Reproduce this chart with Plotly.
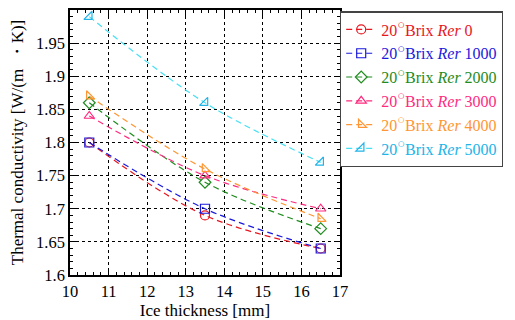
import plotly.graph_objects as go

thickness = [10.5, 13.5, 16.5]
rer_labels = ["0", "1000", "2000", "3000", "4000", "5000"]
k_rer0 = [1.80, 1.69, 1.64]
k_rer1000 = [1.80, 1.70, 1.64]
k_rer2000 = [1.86, 1.74, 1.67]
k_rer3000 = [1.84, 1.75, 1.70]
k_rer4000 = [1.87, 1.76, 1.685]
k_rer5000 = [1.99, 1.86, 1.77]

series = [k_rer0, k_rer1000, k_rer2000, k_rer3000, k_rer4000, k_rer5000]
marker_colors = ["#e8161e", "#1a1adc", "#1e8c1e", "#ff2a7f", "#ff9633", "#22b4e8"]
line_colors = ["#e8161e", "#1a1adc", "#1e8c1e", "#ff2a7f", "#ff9633", "#44e0f4"]
symbols = ["circle-open", "square-open", "diamond-open", "triangle-up-open",
           "triangle-sw-open", "triangle-se-open"]

SERIF = "Times New Roman, Liberation Serif, DejaVu Serif, serif"

fig = go.Figure()
for lab, ys, mc, lc, sym in zip(rer_labels, series, marker_colors, line_colors, symbols):
    fig.add_trace(go.Scatter(
        x=thickness, y=ys, mode="lines+markers",
        name=(f"<span style='color:{mc}'>20<sup><span style='font-size:13px'>○</span></sup>"
              f"Brix <i>Rer</i> {lab}</span>"),
        line=dict(color=lc, width=1.2, dash="6px,4px", shape="spline"),
        marker=dict(symbol=sym, size=9, color=mc, line=dict(color=mc, width=1.2)),
    ))

font = dict(family=SERIF, size=16.5, color="black")
axis_common = dict(
    showline=True, linecolor="black", linewidth=1.5, mirror="ticks",
    ticks="inside", ticklen=6, tickcolor="black",
    showgrid=True, gridcolor="black", griddash="dot", gridwidth=1,
    zeroline=False, tickfont=font, automargin=False,
)
# page body has an 8px margin, so the figure is sized/margined to compensate
fig.update_layout(
    width=507, height=312,
    margin=dict(l=62, r=175, t=2, b=45),
    plot_bgcolor="white", paper_bgcolor="white",
    font=font,
    xaxis=dict(range=[10, 17], dtick=1, tick0=10,
               title=dict(text="Ice thickness [mm]", font=dict(family=SERIF, size=17)),
               minor=dict(ticks="inside", ticklen=3, dtick=0.2, tickcolor="black", showgrid=False),
               **axis_common),
    yaxis=dict(range=[1.6, 2.0], dtick=0.05, tick0=1.6,
               title=dict(text="Thermal conductivity [W/(m  ・K)]", font=dict(family=SERIF, size=17)),
               minor=dict(ticks="inside", ticklen=3, dtick=0.01, tickcolor="black", showgrid=False),
               **axis_common),
    legend=dict(x=1.0, y=0.995, xanchor="left", yanchor="top",
                bordercolor="#444", borderwidth=1.2, bgcolor="white",
                font=dict(family=SERIF, size=16),
                tracegroupgap=0, itemwidth=30),
    showlegend=True,
)
fig.write_html("out.html")
